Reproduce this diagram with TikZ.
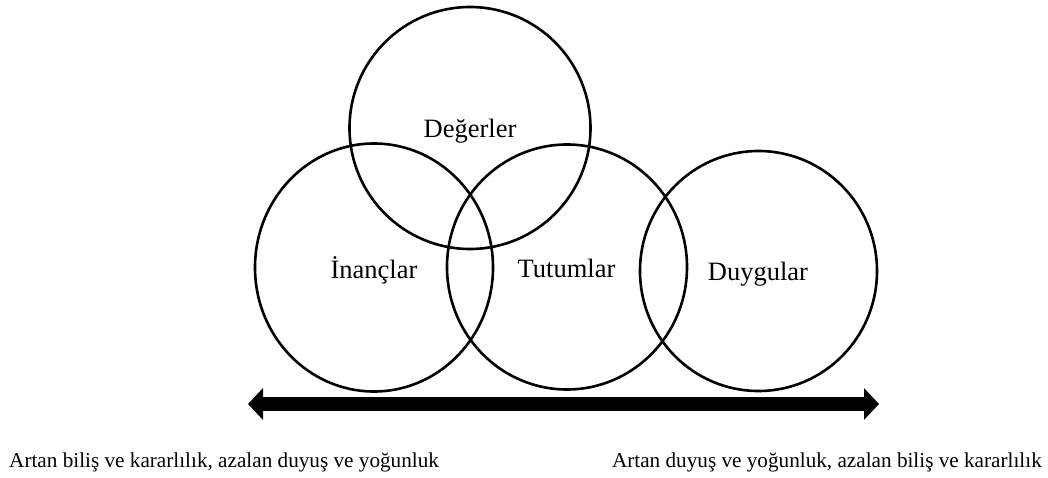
\documentclass[tikz,border=0pt]{standalone}
\usepackage{fontspec}
\setmainfont{Liberation Serif}
\usetikzlibrary{shapes.geometric,arrows.meta}

\tikzset{
  venn/.style={ellipse, draw=black, line width=2.6pt, inner sep=0pt, outer sep=0pt},
  lbl/.style={anchor=base, inner sep=0pt, font=\fontsize{26.5}{30}\selectfont},
  note/.style={inner sep=0pt, font=\fontsize{21.2}{25}\selectfont},
  bigarrow/.style={line width=14.5pt,
    {Triangle[length=15pt,width=31pt]}-{Triangle[length=15pt,width=31pt]}}
}

\begin{document}
\begin{tikzpicture}[x=1pt,y=-1pt]
  \useasboundingbox (0,0) rectangle (1048,478);

  % overlapping sets
  \node[venn, minimum width=241pt, minimum height=242pt] (deg) at (470,128) {};
  \node[venn, minimum width=238pt, minimum height=248pt] (inc) at (374,267.5) {};
  \node[venn, minimum width=240pt, minimum height=245pt] (tut) at (567,267) {};
  \node[venn, minimum width=237pt, minimum height=240pt] (duy) at (758.5,271) {};

  % set labels
  \node[lbl] (tdeg) at (470,138) {Değerler};
  \node[lbl] (tinc) at (374,278) {İnançlar};
  \node[lbl] (ttut) at (566.5,277) {Tutumlar};
  \node[lbl] (tduy) at (758,280) {Duygular};

  % double-headed continuum arrow
  \coordinate (aL) at (248,404);
  \coordinate (aR) at (879,404);
  \draw[bigarrow] (aL) -- (aR);

  % end captions
  \node[note, anchor=base west] (capL) at (9,467) {Artan biliş ve kararlılık, azalan duyuş ve yoğunluk};
  \node[note, anchor=base east] (capR) at (1042,467) {Artan duyuş ve yoğunluk, azalan biliş ve kararlılık};
\end{tikzpicture}
\end{document}
